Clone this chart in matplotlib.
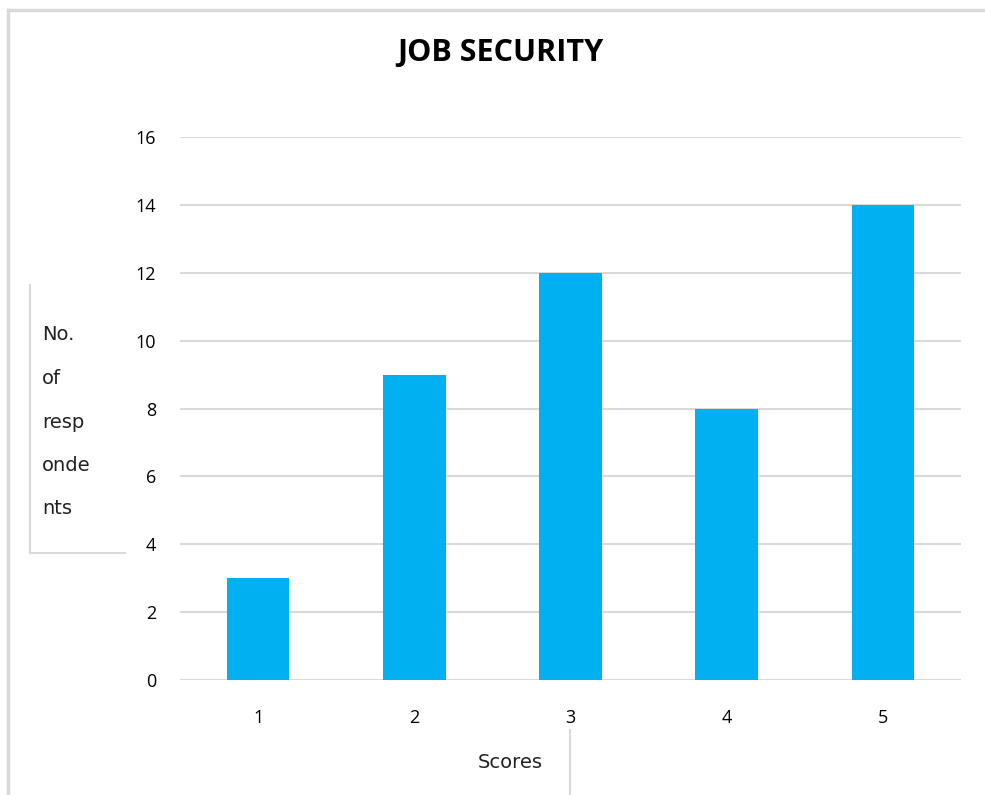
import matplotlib.pyplot as plt
from matplotlib.lines import Line2D

scores = ["1", "2", "3", "4", "5"]
respondents = [3, 9, 12, 8, 14]
y_ticks = [0, 2, 4, 6, 8, 10, 12, 14, 16]
y_label_lines = ["No.", "of", "resp", "onde", "nts"]

W, H = 985, 795
fig = plt.figure(figsize=(W / 100, H / 100), dpi=100)

ax = fig.add_axes([180 / W, 1 - 680 / H, (961 - 180) / W, (680 - 137) / H])
x = list(range(1, len(scores) + 1))
ax.bar(x, respondents, width=0.4, color="#00B0F0", zorder=3)

ax.set_xlim(0.5, len(scores) + 0.5)
ax.set_ylim(0, 16)
ax.set_xticks(x)
ax.set_xticklabels(scores)
ax.set_yticks(y_ticks)
ax.tick_params(axis="both", length=0, labelsize=13, colors="#000000")
ax.tick_params(axis="x", pad=21)
ax.tick_params(axis="y", pad=17)
for lab in ax.get_xticklabels() + ax.get_yticklabels():
    lab.set_family("Open Sans")
ax.grid(axis="y", color="#D9D9D9", linewidth=1.5, zorder=0)
for s in ax.spines.values():
    s.set_visible(False)

# title
fig.text(500 / W, 1 - 53 / H, "JOB SECURITY", ha="center", va="center",
         fontsize=22, fontweight="bold", family="Open Sans")

# y label broken over lines, in its own little box
for i, line in enumerate(y_label_lines):
    fig.text(42 / W, 1 - (335 + i * 43.5) / H, line, ha="left", va="center",
             fontsize=14, color="#222222", family="DejaVu Sans")

# x label
fig.text(510 / W, 1 - 762 / H, "Scores", ha="center", va="center",
         fontsize=14, color="#222222", family="DejaVu Sans")

gray = "#D9D9D9"
def fline(xs, ys, lw=1.5):
    fig.add_artist(Line2D([v / W for v in xs], [1 - v / H for v in ys],
                          color=gray, linewidth=lw))

# outer border (left and top)
fline([8, 8], [795, 10], lw=2.5)
fline([8, 985], [10, 10], lw=2.5)
# y label box edges
fline([30, 30], [285, 553])
fline([30, 125], [553, 553])
# x label box edge
fline([570, 570], [730, 795])

fig.savefig("out.png", dpi=100)
